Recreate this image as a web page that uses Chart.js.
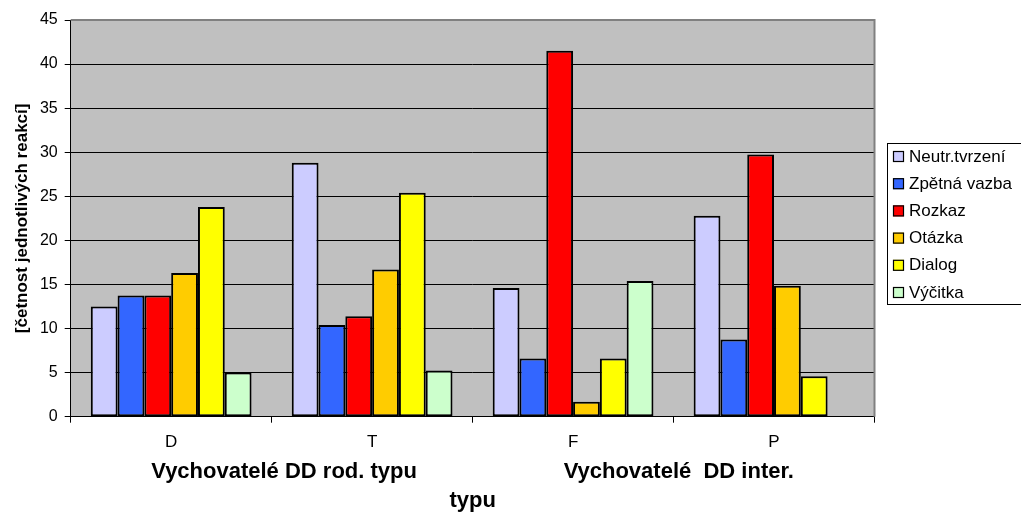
<!DOCTYPE html>
<html>
<head>
<meta charset="utf-8">
<script src="https://cdn.jsdelivr.net/npm/chart.js@4.4.1/dist/chart.umd.min.js"></script>
<style>
  html, body { margin: 0; padding: 0; background: #ffffff; }
  #wrap { width: 1021px; height: 516px; }
</style>
</head>
<body>
<div id="wrap"><canvas id="c" width="1021" height="516"></canvas></div>
<script>
// Categories (x axis)
const categories = ['D', 'T', 'F', 'P'];

// Reaction frequencies per series
const neutrTvrzeni = [12.5, 28.8, 14.6, 22.8];
const zpetnaVazba  = [13.75, 10.4, 6.6, 8.75];
const rozkaz       = [13.75, 11.4, 41.5, 29.75];
const otazka       = [16.3, 16.7, 1.7, 14.85];
const dialog       = [23.8, 25.4, 6.6, 4.6];
const vycitka      = [5.0, 5.25, 15.4, null];

// Series names and fills
const seriesNames  = ['Neutr.tvrzení', 'Zpětná vazba', 'Rozkaz', 'Otázka', 'Dialog', 'Výčitka'];
const seriesColors = ['#ccccff', '#3366ff', '#ff0000', '#ffcc00', '#ffff00', '#ccffcc'];
const seriesValues = [neutrTvrzeni, zpetnaVazba, rozkaz, otazka, dialog, vycitka];

// Axis texts
const yTitle = '[četnost jednotlivých reakcí]';
const xTitleLines = [
  'Vychovatelé DD rod. typu' + ' '.repeat(24) + 'Vychovatelé  DD inter.',
  'typu'
];

const FONT = 'Arial, "Liberation Sans", sans-serif';

// Grey plot background plus the thin grey frame on top/right
const plotFrame = {
  id: 'plotFrame',
  beforeDraw(chart) {
    const { ctx, chartArea: a } = chart;
    ctx.save();
    ctx.fillStyle = '#c0c0c0';
    ctx.fillRect(a.left, a.top, a.right - a.left, a.bottom - a.top);
    ctx.restore();
  },
  afterDraw(chart) {
    const { ctx, chartArea: a } = chart;
    ctx.save();
    ctx.strokeStyle = '#808080';
    ctx.lineWidth = 2;
    ctx.beginPath();
    ctx.moveTo(a.left, a.top);
    ctx.lineTo(a.right, a.top);
    ctx.lineTo(a.right, a.bottom);
    ctx.stroke();
    ctx.restore();
  }
};

// Boxed legend to the right of the plot
const boxLegend = {
  id: 'boxLegend',
  afterDraw(chart) {
    const { ctx } = chart;
    const x0 = 887, y0 = 143, w = 150, h = 161;
    ctx.save();
    ctx.fillStyle = '#ffffff';
    ctx.fillRect(x0, y0, w, h);
    ctx.strokeStyle = '#000000';
    ctx.lineWidth = 1;
    ctx.strokeRect(x0 + 0.5, y0 + 0.5, w, h);
    ctx.font = '17px ' + FONT;
    ctx.textBaseline = 'middle';
    ctx.textAlign = 'left';
    chart.data.datasets.forEach((ds, i) => {
      const cy = y0 + 13 + i * 27.2;
      ctx.fillStyle = ds.backgroundColor;
      ctx.fillRect(893, cy - 5, 11, 11);
      ctx.strokeStyle = '#000000';
      ctx.lineWidth = 1.2;
      ctx.strokeRect(893.5, cy - 4.5, 10, 10);
      ctx.fillStyle = '#000000';
      ctx.fillText(ds.label, 909, cy + 1);
    });
    ctx.restore();
  }
};

new Chart(document.getElementById('c'), {
  type: 'bar',
  data: {
    labels: categories,
    datasets: seriesNames.map((name, i) => ({
      label: name,
      data: seriesValues[i],
      backgroundColor: seriesColors[i],
      borderColor: '#000000',
      borderWidth: 2,
      borderSkipped: false,
      categoryPercentage: 0.8,
      barPercentage: 1.0
    }))
  },
  options: {
    responsive: false,
    animation: false,
    devicePixelRatio: 1,
    layout: { padding: { left: 0, right: 146.5, top: 20, bottom: 0 } },
    plugins: {
      legend: { display: false },
      tooltip: { enabled: false }
    },
    scales: {
      x: {
        offset: true,
        grid: {
          offset: true,
          drawOnChartArea: false,
          drawTicks: true,
          tickLength: 6,
          color: '#000000',
          lineWidth: 1
        },
        border: { display: true, color: '#000000', width: 1 },
        ticks: {
          color: '#000000',
          font: { family: FONT, size: 17 },
          padding: 9,
          maxRotation: 0
        },
        title: {
          display: true,
          text: xTitleLines,
          color: '#000000',
          font: { family: FONT, size: 22, weight: 'bold', lineHeight: 1.35 },
          padding: { top: 0, bottom: 0 }
        },
        afterFit(scale) {
          scale.height = 99.3;
          scale.paddingLeft = 0;
          scale.paddingRight = 0;
          scale.paddingTop = 0;
          scale.paddingBottom = 0;
        }
      },
      y: {
        min: 0,
        max: 45,
        ticks: {
          stepSize: 5,
          color: '#000000',
          font: { family: FONT, size: 16 },
          padding: 7
        },
        grid: {
          color: '#000000',
          lineWidth: 1,
          drawTicks: true,
          tickLength: 6
        },
        border: { display: true, color: '#000000', width: 1 },
        title: {
          display: true,
          text: yTitle,
          color: '#000000',
          font: { family: FONT, size: 17, weight: 'bold' },
          padding: { top: 12, bottom: 0 }
        },
        afterFit(scale) {
          scale.width = 70.7;
          scale.paddingLeft = 0;
          scale.paddingRight = 0;
          scale.paddingTop = 0;
          scale.paddingBottom = 0;
        }
      }
    }
  },
  plugins: [plotFrame, boxLegend]
});
</script>
</body>
</html>
